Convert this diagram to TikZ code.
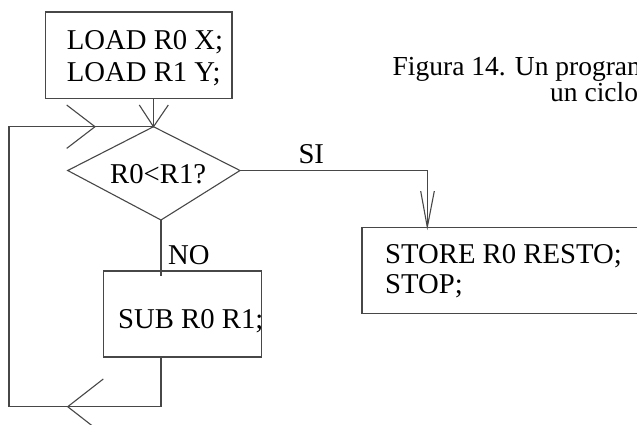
\documentclass[tikz,border=0pt]{standalone}
\usepackage{fontspec}
\setmainfont{Liberation Serif}
\begin{document}
\begin{tikzpicture}[x=1pt,y=-1pt,
  ln/.style={draw=black!72, line width=1.1pt},
  box/.style={ln, rectangle, inner sep=0pt},
  txt/.style={anchor=base west, inner sep=0pt, text=black, font=\fontsize{28.7}{34}\selectfont},
  captxt/.style={anchor=base west, inner sep=0pt, text=black, font=\fontsize{27.5}{32}\selectfont}]
\useasboundingbox (0,0) rectangle (637,424);
\clip (0,0) rectangle (637,424);
% boxes
\node[box, minimum width=186.5pt, minimum height=86.3pt] (load) at (138.75,55.15) {};
\node[box, minimum width=158.4pt, minimum height=86pt] (sub) at (182.5,314) {};
\node[box, minimum width=283pt, minimum height=85.6pt] (store) at (503.5,270.5) {};
% diamond
\coordinate (dT) at (153.5,126.7);
\coordinate (dL) at (67.7,170.5);
\coordinate (dR) at (240,170.5);
\coordinate (dB) at (161,220);
\draw[ln] (dT) -- (dR) -- (dB) -- (dL) -- cycle;
% texts
\node[txt] (t1) at (66.7,49.3) {LOAD R0 X;};
\node[txt] (t2) at (66.7,81.7) {LOAD R1 Y;};
\node[txt] (tq) at (110,183.3) {R0<R1?};
\node[txt] (tno) at (168,264) {NO};
\node[txt] (tsi) at (298.3,163.3) {SI};
\node[txt] (tsub) at (118,328.3) {SUB R0 R1;};
\node[txt] (ts1) at (385,263.3) {STORE R0 RESTO;};
\node[txt] (ts2) at (385,293.3) {STOP;};
\node[captxt] (c1) at (392.5,75.5) {Figura 14. Un program};
\node[captxt] (c2) at (550,101.5) {un ciclo};
% connectors
\coordinate (lb) at (9,406.7);
\coordinate (lt) at (9,126.7);
\coordinate (sc) at (427.3,170.5);
\coordinate (a1) at (95,126.7);
\coordinate (a2) at (67.7,406.7);
\draw[ln] (load.south -| dT) -- (dT);
\draw[ln] (dT) ++(-14.2,-21.7) -- (dT) -- ++(14.8,-21.7);
\draw[ln] (dB) -- ([yshift=-6pt]sub.north -| dB);
\draw[ln] (sub.south -| dB) |- (lb) -- (lt) -- (dT);
\draw[ln] (a1) ++(-28.3,-21.7) -- (a1) -- ++(-28.3,21.7);
\draw[ln] (a2) ++(35.6,-27.7) -- (a2) -- ++(35.6,27.7);
\draw[ln] (dR) -- (sc) -- (sc |- store.north);
\draw[ln] (sc |- store.north) ++(-6.6,-36) -- (sc |- store.north) -- ++(7,-36);
\end{tikzpicture}
\end{document}
